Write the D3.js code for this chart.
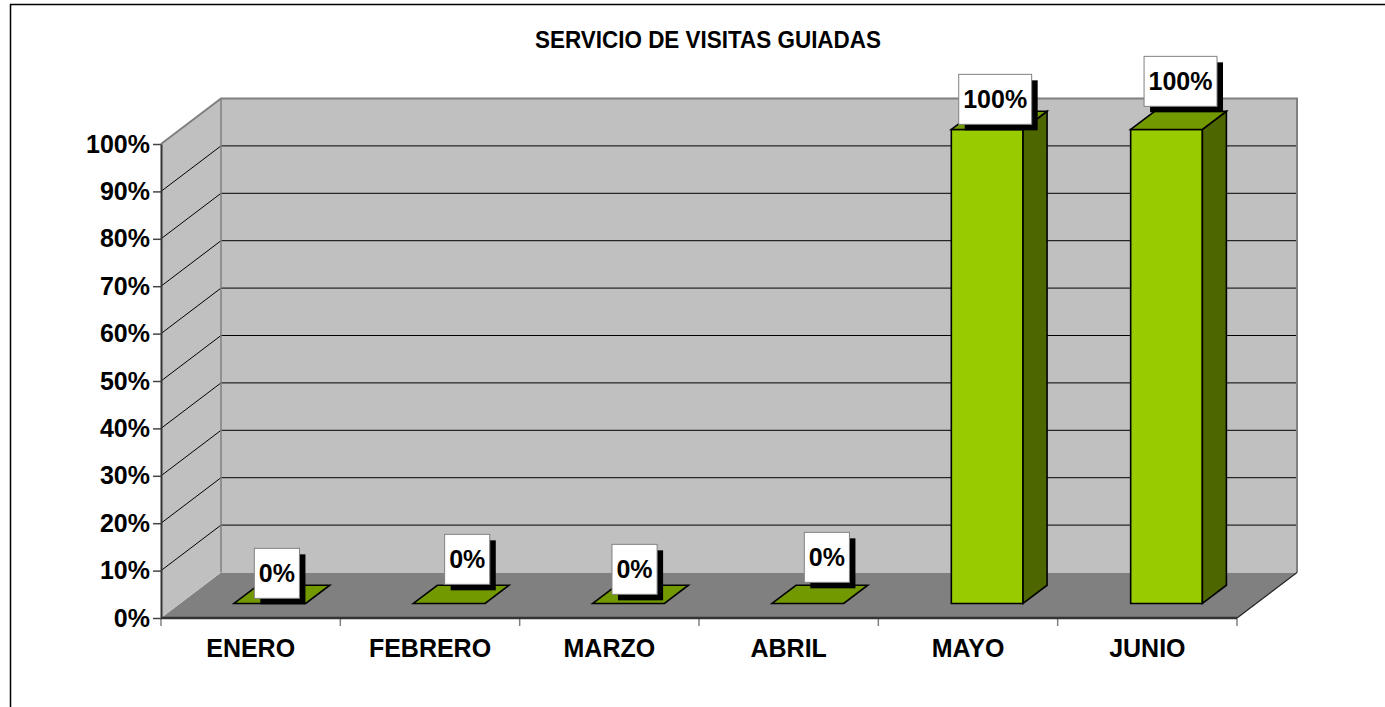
<!doctype html>
<html lang="es">
<head>
<meta charset="utf-8">
<title>Servicio de visitas guiadas</title>
<script src="https://cdn.jsdelivr.net/npm/d3@7"></script>
<style>
  body { margin: 0; background: #fff; }
  svg { display: block; font-family: Arial, "Liberation Sans", sans-serif; }
</style>
</head>
<body>
<svg></svg>
<script>
// data
var categories = ["ENERO", "FEBRERO", "MARZO", "ABRIL", "MAYO", "JUNIO"];
var values = [0, 0, 0, 0, 1, 1];
var yTicks = [0, 0.1, 0.2, 0.3, 0.4, 0.5, 0.6, 0.7, 0.8, 0.9, 1];
var title = "SERVICIO DE VISITAS GUIADAS";

// labels were dragged around by hand in the original
var labelNudge = [[-5, -21], [6, -35], [-6, -25], [7, -37], [-4, -21], [2, -39]];

var width = 1385, height = 707;
// note: "top" is a reserved window prop, so use plot* names
var plotLeft = 161, plotRight = 1237, plotBottom = 618, plotTop = 144;
var DX = 60, DY = 45.5;        // depth of the 3d box
var z0 = 0.32, z1 = 0.72;      // bar front / back depth
var fontSize = 25;

var svg = d3.select("svg").attr("width", width).attr("height", height);

var x = d3.scaleBand().domain(categories).range([plotLeft, plotRight])
    .paddingInner(0.6).paddingOuter(0.3);
var xCat = d3.scaleBand().domain(categories).range([plotLeft, plotRight]).padding(0);
var y = d3.scaleLinear().domain([0, 1]).range([plotBottom, plotTop]);

function P(px, py, z) { return [px + DX * z, py - DY * z]; }
function poly(pts) { return pts.map(function (p) { return p.join(","); }).join(" "); }

// outer frame
svg.append("rect").attr("x", 10.5).attr("y", 4.5).attr("width", 1500).attr("height", 900)
    .attr("fill", "none").attr("stroke", "#000").attr("stroke-width", 1.5);

// title
svg.append("text").attr("x", 708).attr("y", 48)
    .attr("text-anchor", "middle").attr("font-size", 24.5).attr("font-weight", "bold")
    .attr("textLength", 346).attr("lengthAdjust", "spacingAndGlyphs")
    .text(title);

// floor
svg.append("polygon")
    .attr("points", poly([[plotLeft, plotBottom], [plotRight, plotBottom], P(plotRight, plotBottom, 1), P(plotLeft, plotBottom, 1)]))
    .attr("fill", "#808080");

// left wall
svg.append("polygon")
    .attr("points", poly([[plotLeft, y(0)], P(plotLeft, y(0), 1), P(plotLeft, y(1), 1), [plotLeft, y(1)]]))
    .attr("fill", "#c0c0c0");

// back wall
var bw0 = P(plotLeft, y(1), 1), bw1 = P(plotRight, y(0), 1);
svg.append("rect").attr("x", bw0[0]).attr("y", bw0[1])
    .attr("width", bw1[0] - bw0[0]).attr("height", bw1[1] - bw0[1])
    .attr("fill", "#c0c0c0");

// gridlines (back wall + left wall diagonals)
var grid = yTicks.filter(function (t) { return t > 0 && t < 1; });
svg.selectAll(".gback").data(grid).enter().append("line")
    .attr("x1", function (d) { return P(plotLeft, y(d), 1)[0]; })
    .attr("x2", function (d) { return P(plotRight, y(d), 1)[0]; })
    .attr("y1", function (d) { return P(plotLeft, y(d), 1)[1]; })
    .attr("y2", function (d) { return P(plotLeft, y(d), 1)[1]; })
    .attr("stroke", "#000").attr("stroke-width", 1);
svg.selectAll(".gside").data(grid).enter().append("line")
    .attr("x1", plotLeft).attr("y1", function (d) { return y(d); })
    .attr("x2", function (d) { return P(plotLeft, y(d), 1)[0]; })
    .attr("y2", function (d) { return P(plotLeft, y(d), 1)[1]; })
    .attr("stroke", "#000").attr("stroke-width", 1);

// wall edges
svg.append("polyline")
    .attr("points", poly([[plotLeft, y(1)], P(plotLeft, y(1), 1), P(plotRight, y(1), 1), P(plotRight, y(0), 1)]))
    .attr("fill", "none").attr("stroke", "#808080").attr("stroke-width", 2);
svg.append("line")
    .attr("x1", P(plotLeft, y(0), 1)[0]).attr("y1", P(plotLeft, y(0), 1)[1])
    .attr("x2", P(plotLeft, y(1), 1)[0]).attr("y2", P(plotLeft, y(1), 1)[1])
    .attr("stroke", "#808080").attr("stroke-width", 1.5);

// floor edge on the right
svg.append("polyline")
    .attr("points", poly([[plotRight, plotBottom], P(plotRight, plotBottom, 1)]))
    .attr("fill", "none").attr("stroke", "#222").attr("stroke-width", 1.2);

// category ticks + labels
var bounds = categories.map(function (c) { return xCat(c); }).concat([plotRight]);
svg.selectAll(".ctick").data(bounds).enter().append("line")
    .attr("x1", function (d) { return d; }).attr("x2", function (d) { return d; })
    .attr("y1", plotBottom).attr("y2", plotBottom + 8)
    .attr("stroke", "#808080").attr("stroke-width", 1.5);
svg.append("line").attr("x1", plotLeft).attr("x2", plotRight).attr("y1", plotBottom).attr("y2", plotBottom)
    .attr("stroke", "#333").attr("stroke-width", 2.5);
svg.selectAll(".clabel").data(categories).enter().append("text")
    .attr("x", function (d) { return xCat(d) + xCat.bandwidth() / 2; })
    .attr("y", 657)
    .attr("text-anchor", "middle").attr("font-size", fontSize).attr("font-weight", "bold")
    .text(function (d) { return d; });

// y axis
var yAxis = d3.axisLeft(y).tickValues(yTicks).tickFormat(d3.format(".0%"))
    .tickSize(8).tickSizeOuter(0).tickPadding(3);
var gy = svg.append("g").attr("transform", "translate(" + plotLeft + ",0)").call(yAxis);
gy.select(".domain").attr("stroke", "#333").attr("stroke-width", 2);
gy.selectAll(".tick line").attr("stroke", "#444").attr("stroke-width", 1.5);
gy.selectAll(".tick text").attr("font-size", fontSize).attr("font-weight", "bold")
    .attr("font-family", "Arial, 'Liberation Sans', sans-serif").attr("fill", "#000");

// bars
var bars = svg.append("g");
categories.forEach(function (c, i) {
    var v = values[i];
    var xa = x(c), xb = x(c) + x.bandwidth();
    var g = bars.append("g").attr("stroke", "#000").attr("stroke-width", 1.6)
        .attr("stroke-linejoin", "miter");
    if (v > 0) {
        g.append("polygon")
            .attr("points", poly([P(xa, y(0), z0), P(xb, y(0), z0), P(xb, y(v), z0), P(xa, y(v), z0)]))
            .attr("fill", "#99cc00");
        g.append("polygon")
            .attr("points", poly([P(xb, y(0), z0), P(xb, y(0), z1), P(xb, y(v), z1), P(xb, y(v), z0)]))
            .attr("fill", "#4d6600");
    }
    g.append("polygon")
        .attr("points", poly([P(xa, y(v), z0), P(xb, y(v), z0), P(xb, y(v), z1), P(xa, y(v), z1)]))
        .attr("fill", "#739900");
});

// data labels
var labels = svg.append("g");
categories.forEach(function (c, i) {
    var v = values[i];
    var zm = (z0 + z1) / 2;
    var a = P(x(c) + x.bandwidth() / 2, y(v), zm);
    var cx = a[0] + labelNudge[i][0], cy = a[1] + labelNudge[i][1];
    var g = labels.append("g");
    var t = g.append("text").attr("x", cx).attr("y", cy + 9)
        .attr("text-anchor", "middle").attr("font-size", fontSize).attr("font-weight", "bold")
        .text(d3.format(".0%")(v));
    var tw = t.node().getComputedTextLength();
    var bwid = tw + 9, bh = 50;
    g.insert("rect", "text").attr("x", cx - bwid / 2 + 6).attr("y", cy - bh / 2 + 6)
        .attr("width", bwid).attr("height", bh).attr("fill", "#000");
    g.insert("rect", "text").attr("x", cx - bwid / 2).attr("y", cy - bh / 2)
        .attr("width", bwid).attr("height", bh)
        .attr("fill", "#fff").attr("stroke", "#808080").attr("stroke-width", 1);
});
</script>
</body>
</html>
